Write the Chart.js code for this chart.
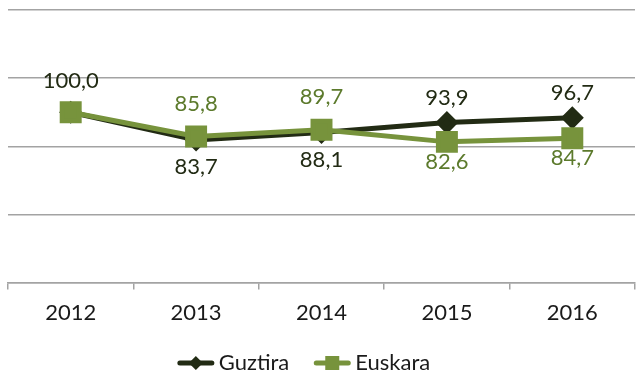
<!DOCTYPE html>
<html>
<head>
<meta charset="utf-8">
<script src="https://cdn.jsdelivr.net/npm/chart.js@4/dist/chart.umd.min.js"></script>
<style>
  html, body { margin: 0; padding: 0; background: #fff; }
  #wrap { width: 638px; height: 373px; }
</style>
</head>
<body>
<div id="wrap"><canvas id="indexChart" width="638" height="373"></canvas></div>
<script>
"use strict";

var years = ['2012', '2013', '2014', '2015', '2016'];
var guztira = [100.0, 83.7, 88.1, 93.9, 96.7];
var euskara = [100.0, 85.8, 89.7, 82.6, 84.7];
var yTicks = [0, 40, 80, 120, 160];

var darkColor = '#222b14';
var greenColor = '#77933c';
var greenText = '#5c7a2c';
var textColor = '#1a1a1a';
var gridColor = '#a3a3a3';
var fontFamily = 'Lato, "Open Sans", sans-serif';

function fmt(v) {
  return v.toFixed(1).replace('.', ',');
}

// value labels: the higher series at a year gets its label above, the lower one below
var valueLabels = {
  id: 'valueLabels',
  afterDatasetsDraw: function (chart) {
    var ctx = chart.ctx;
    var metaG = chart.getDatasetMeta(0);
    var metaE = chart.getDatasetMeta(1);
    ctx.save();
    ctx.font = '22px ' + fontFamily;
    ctx.textAlign = 'center';
    ctx.textBaseline = 'middle';
    years.forEach(function (y, i) {
      var g = guztira[i], e = euskara[i];
      var pg = metaG.data[i], pe = metaE.data[i];
      if (g === e) {
        ctx.fillStyle = darkColor;
        ctx.fillText(fmt(g), pg.x, pg.y - 31);
        return;
      }
      var gAbove = g > e;
      ctx.fillStyle = darkColor;
      ctx.fillText(fmt(g), pg.x, gAbove ? pg.y - 25 : pg.y + 27);
      ctx.fillStyle = greenText;
      ctx.fillText(fmt(e), pe.x, gAbove ? pe.y + 20 : pe.y - 33);
    });
    ctx.restore();
  }
};

// legend drawn by hand: a short line with the series marker, then the name
var lineLegend = {
  id: 'lineLegend',
  afterDraw: function (chart) {
    var ctx = chart.ctx;
    var sets = chart.data.datasets;
    var lineW = 36, textGap = 5, itemGap = 25, cy = 363;
    ctx.save();
    ctx.font = '22px ' + fontFamily;
    ctx.textBaseline = 'middle';
    var widths = sets.map(function (ds) { return lineW + textGap + ctx.measureText(ds.label).width; });
    var total = widths.reduce(function (a, b) { return a + b; }, 0) + itemGap * (sets.length - 1);
    var x = 304 - total / 2;
    sets.forEach(function (ds, i) {
      ctx.strokeStyle = ds.borderColor;
      ctx.fillStyle = ds.borderColor;
      ctx.lineWidth = 5;
      ctx.lineCap = 'round';
      ctx.beginPath();
      ctx.moveTo(x + 2, cy);
      ctx.lineTo(x + lineW - 2, cy);
      ctx.stroke();
      var mx = x + lineW / 2;
      ctx.beginPath();
      if (ds.pointStyle === 'rectRot') {
        ctx.moveTo(mx, cy - 7);
        ctx.lineTo(mx + 7, cy);
        ctx.lineTo(mx, cy + 7);
        ctx.lineTo(mx - 7, cy);
        ctx.closePath();
      } else {
        ctx.rect(mx - 7, cy - 7, 14, 14);
      }
      ctx.fill();
      ctx.fillStyle = textColor;
      ctx.fillText(ds.label, x + lineW + textGap, cy);
      x += widths[i] + itemGap;
    });
    ctx.restore();
  }
};

var chartCtx = document.getElementById('indexChart').getContext('2d');
var indexChart = new Chart(chartCtx, {
  type: 'line',
  data: {
    labels: years,
    datasets: [{
      label: 'Guztira',
      data: guztira,
      borderColor: darkColor,
      backgroundColor: darkColor,
      borderWidth: 5,
      pointStyle: 'rectRot',
      pointRadius: 8,
      pointHoverRadius: 8,
      order: 1
    }, {
      label: 'Euskara',
      data: euskara,
      borderColor: greenColor,
      backgroundColor: greenColor,
      borderWidth: 5,
      pointStyle: 'rect',
      pointRadius: 12,
      pointHoverRadius: 12,
      order: 0
    }]
  },
  options: {
    responsive: false,
    animation: false,
    layout: {
      autoPadding: false,
      padding: { left: 0, right: 3, top: 10, bottom: 37 }
    },
    scales: {
      x: {
        offset: true,
        grid: {
          offset: true,
          drawOnChartArea: false,
          color: gridColor,
          lineWidth: 1.5,
          tickLength: 7
        },
        border: { color: gridColor, width: 1.5 },
        ticks: {
          color: textColor,
          padding: 10,
          font: { family: fontFamily, size: 22 }
        }
      },
      y: {
        min: yTicks[0],
        max: yTicks[yTicks.length - 1],
        afterBuildTicks: function (axis) {
          axis.ticks = yTicks.map(function (v) { return { value: v }; });
        },
        afterFit: function (axis) {
          axis.width = 8;
        },
        grid: {
          color: gridColor,
          lineWidth: 1.5,
          drawTicks: false
        },
        border: { display: false },
        ticks: { display: false }
      }
    },
    plugins: {
      legend: { display: false },
      tooltip: { enabled: false }
    }
  },
  plugins: [valueLabels, lineLegend]
});
</script>
</body>
</html>
